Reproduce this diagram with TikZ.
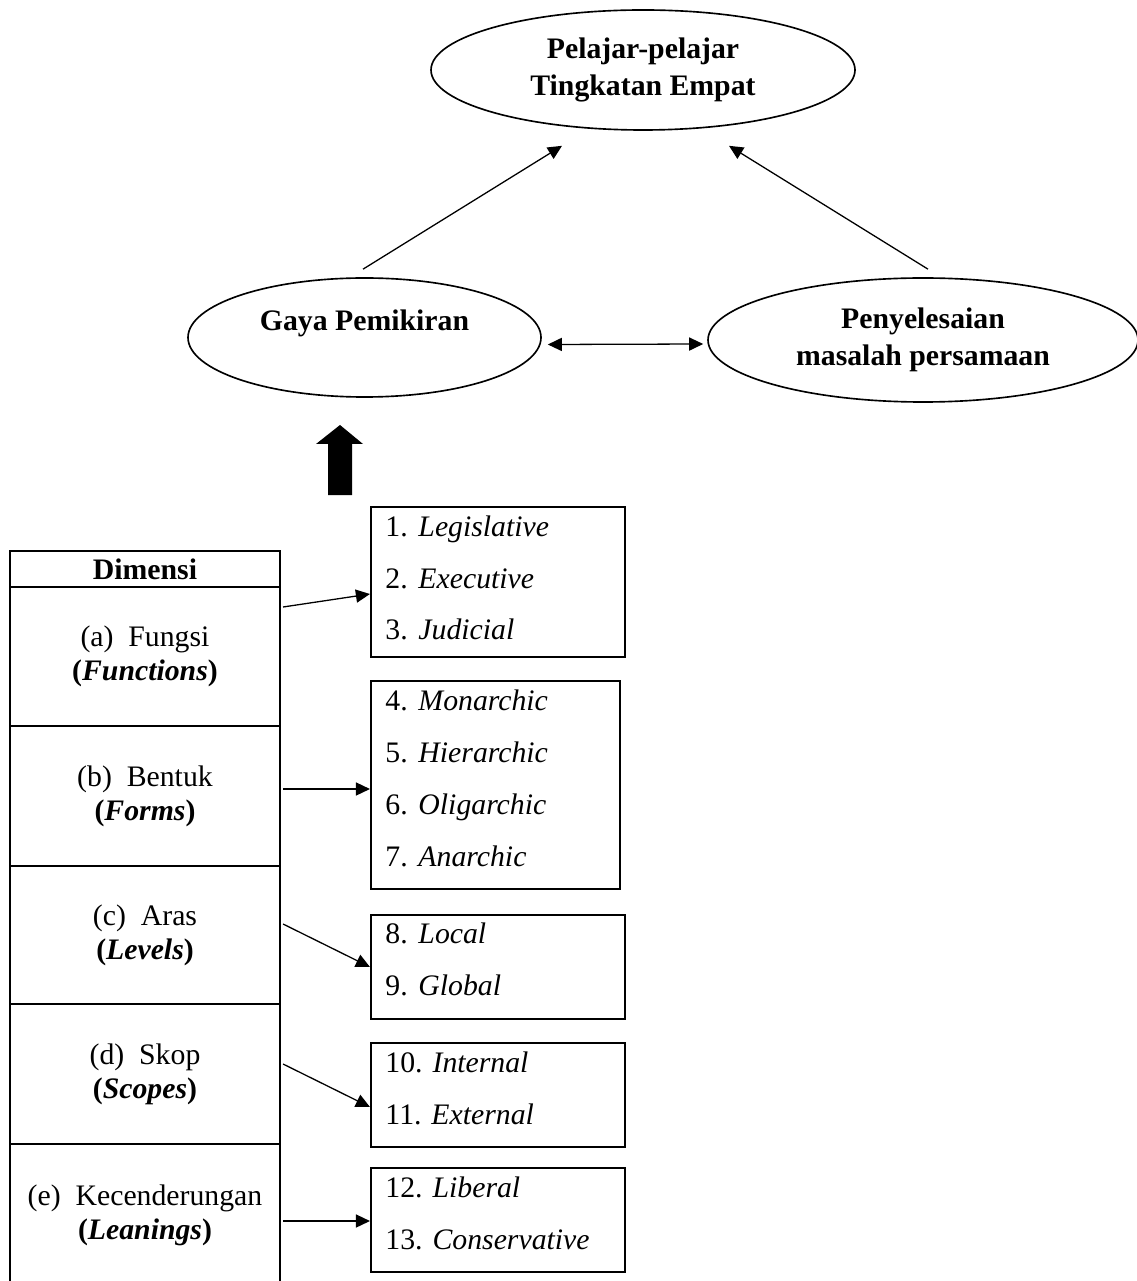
\documentclass[tikz,border=0pt]{standalone}
\usepackage{fontspec}
\setmainfont{Liberation Serif}
\usetikzlibrary{arrows.meta,positioning,shapes.geometric,calc}
\def\px{0.15mm}
\newcommand{\nr}[1]{\makebox[4.95mm][l]{#1}}
\newcommand{\bodyfont}{\fontsize{12.7}{14.5}\selectfont}
\tikzset{
  oval/.style ={draw,ellipse,line width=0.7pt,inner sep=0pt,align=center,
                font=\fontsize{12.7}{15.8}\selectfont\bfseries},
  cell/.style ={draw,line width=0.9pt,inner sep=0pt,align=center,
                minimum width=270*\px},
  lst/.style  ={draw,line width=0.9pt,inner sep=0pt},
  itm/.style  ={anchor=base west,inner sep=0pt},
  lnk/.style  ={-{Triangle[length=6pt,width=5.6pt]},line width=0.55pt},
  dlnk/.style ={{Triangle[length=6pt,width=5.6pt]}-{Triangle[length=6pt,width=5.6pt]},
                line width=0.55pt},
}

\begin{document}
\begin{tikzpicture}[x=\px,y=-\px,font=\bodyfont]
\path[use as bounding box,fill=white] (0,0) rectangle (1136,1281);

% the three ovals
\node[oval,minimum width=424*\px,minimum height=120*\px] (pelajar) at (643,70)
  {Pelajar-pelajar\\Tingkatan Empat};
\node[oval,minimum width=353*\px,minimum height=119*\px] (gaya) at (364.5,337.5) {};
\node[font=\bodyfont\bfseries] (gayatx) at (364.5,323) {Gaya Pemikiran};
\node[oval,minimum width=430*\px,minimum height=124*\px] (peny) at (923,340)
  {Penyelesaian\\masalah persamaan};

\draw[lnk] ($(gaya.north)+(-1.5,-8)$) -- ($(pelajar.south)+(-81,15)$);
\draw[lnk] ($(peny.north)+(5,-8)$) -- ($(pelajar.south)+(86,15)$);
\draw[dlnk] ($(gaya.east)+(6,7)$) -- ($(peny.west)+(-4,4)$);

% big arrow up to the thinking styles
\fill (328,495) -- (352,495) -- (352,444) -- (363,444) -- (340,425)
  -- (316,444) -- (328,444) -- cycle;

% dimension table
\node[cell,minimum height=36*\px,font=\bodyfont\bfseries] (hd) at (145,569) {Dimensi};
\node[cell,minimum height=139*\px] (fa) at (145,656.5)
  {(a)~ Fungsi\\\textbf{(\textit{Functions})}};
\node[cell,minimum height=140*\px] (fb) at (145,796)
  {(b)~ Bentuk\\\textbf{(\textit{Forms})}};
\node[cell,minimum height=138*\px] (fc) at (145,935)
  {(c)~ Aras\\\textbf{(\textit{Levels})}};
\node[cell,minimum height=140*\px] (fd) at (145,1074)
  {(d)~ Skop\\\textbf{(\textit{Scopes})}};
\node[cell,minimum height=142*\px] (fe) at (145,1215)
  {(e)~ Kecenderungan\\\textbf{(\textit{Leanings})}};

% style lists
\node[lst,minimum width=254*\px,minimum height=150*\px] (fun) at (498,582) {};
\node[itm] (leg) at (385,536) {\nr{1.}\textit{Legislative}};
\node[itm] (exe) at (385,588) {\nr{2.}\textit{Executive}};
\node[itm] (jud) at (385,639) {\nr{3.}\textit{Judicial}};

\node[lst,minimum width=249*\px,minimum height=208*\px] (frm) at (495.5,785) {};
\node[itm] (mon) at (385,710) {\nr{4.}\textit{Monarchic}};
\node[itm] (hie) at (385,762) {\nr{5.}\textit{Hierarchic}};
\node[itm] (oli) at (385,814) {\nr{6.}\textit{Oligarchic}};
\node[itm] (ana) at (385,866) {\nr{7.}\textit{Anarchic}};

\node[lst,minimum width=254*\px,minimum height=104*\px] (lvl) at (498,967) {};
\node[itm] (loc) at (385,943) {\nr{8.}\textit{Local}};
\node[itm] (glo) at (385,995) {\nr{9.}\textit{Global}};

\node[lst,minimum width=254*\px,minimum height=104*\px] (scp) at (498,1095) {};
\node[itm] (int) at (385,1072) {10. \textit{Internal}};
\node[itm] (ext) at (385,1124) {11. \textit{External}};

\node[lst,minimum width=254*\px,minimum height=104*\px] (lea) at (498,1220) {};
\node[itm] (lib) at (385,1197) {12. \textit{Liberal}};
\node[itm] (con) at (385,1249) {13. \textit{Conservative}};

\draw[lnk] ($(fa.east)+(2,-49.5)$) -- ($(fun.west)+(0,12)$);
\draw[lnk] ($(fb.east)+(2,-7)$) -- ($(frm.west)+(0,4)$);
\draw[lnk] ($(fc.east)+(2,-11)$) -- (lvl.west);
\draw[lnk] ($(fd.east)+(2,-10)$) -- ($(scp.west)+(0,12)$);
\draw[lnk] ($(fe.east)+(2,6)$) -- ($(lea.west)+(0,1)$);
\end{tikzpicture}
\end{document}
